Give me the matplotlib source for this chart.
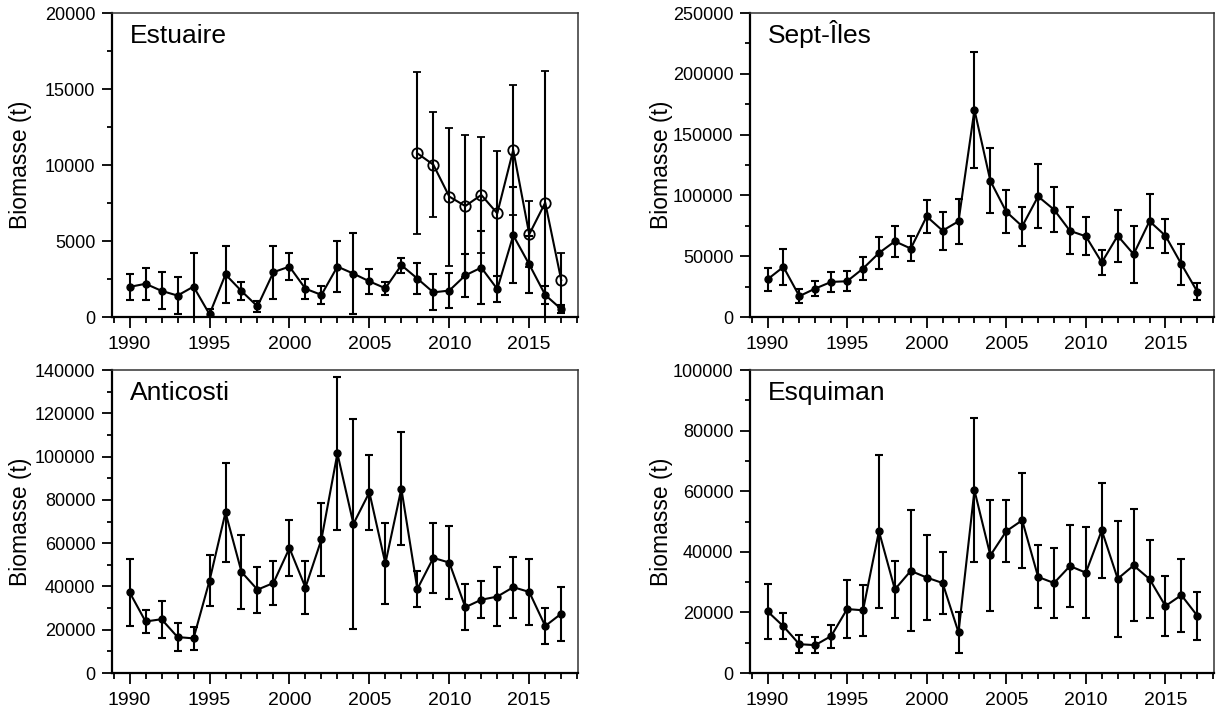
import matplotlib.pyplot as plt
from matplotlib.ticker import MultipleLocator

plt.rcParams['font.family'] = ['Liberation Sans', 'DejaVu Sans']

years = list(range(1990, 2018))

# Estuaire: main survey series plus the second series starting in 2008
estuaire = [1980, 2185, 1720, 1410, 2000, 180, 2800, 1705, 700, 2950,
            3315, 1860, 1455, 3315, 2855, 2345, 1890, 3410, 2530, 1620,
            1740, 2740, 3250, 1840, 5370, 3460, 1450, 520]
estuaire_err = [880, 1035, 1210, 1190, 2200, 320, 1850, 600, 370, 1740,
                900, 650, 575, 1700, 2675, 845, 440, 495, 1025, 1190,
                1150, 1430, 2400, 850, 3150, 1860, 590, 250]
estuaire2_years = list(range(2008, 2018))
estuaire2 = [10770, 10020, 7920, 7300, 8030, 6820, 10990, 5440, 7520, 2430]
estuaire2_err = [5340, 3450, 4540, 4650, 3830, 4120, 4270, 2170, 8660, 1760]

sept_iles = [30950, 41200, 17150, 23400, 28850, 29400, 39850, 52600, 62250, 56300,
             82700, 71000, 78700, 170350, 111950, 86550, 74600, 99150, 88300, 70850,
             66350, 44900, 66800, 51600, 78800, 66800, 43500, 20850]
sept_iles_err = [9750, 15100, 5650, 6200, 8250, 8200, 9650, 12800, 12750, 10450,
                 13500, 15500, 18300, 47550, 26750, 17850, 16100, 26350, 18800, 19250,
                 15550, 10000, 21600, 23350, 22400, 13900, 16900, 7150]

anticosti = [37300, 23800, 24850, 16600, 16000, 42650, 74200, 46700, 38500, 41600,
             57700, 39500, 61700, 101450, 68900, 83450, 50600, 85200, 38800, 53200,
             51000, 30400, 33850, 35300, 39650, 37450, 21700, 27400]
anticosti_err = [15500, 5500, 8450, 6600, 5300, 11650, 22800, 16900, 10650, 10250,
                 12900, 12250, 17050, 35450, 48650, 17450, 18800, 26100, 8300, 16200,
                 16900, 10600, 8650, 13700, 14050, 15350, 8500, 12500]

esquiman = [20350, 15400, 9500, 9200, 12200, 21100, 20700, 46800, 27600, 33700,
            31500, 29700, 13400, 60300, 38800, 46800, 50400, 31700, 29700, 35300,
            33100, 47100, 31100, 35500, 31000, 22100, 25700, 18900]
esquiman_err = [9150, 4300, 3000, 2550, 3800, 9700, 8400, 25200, 9450, 20000,
                13900, 10250, 6700, 23750, 18200, 10250, 15600, 10400, 11450, 13500,
                14950, 15600, 19150, 18500, 12850, 9900, 12050, 7950]

W, H = 1216, 721
fig = plt.figure(figsize=(W / 100, H / 100), dpi=100)


def make_axes(left, top, right, bottom):
    # pixel box -> figure fraction
    return fig.add_axes([left / W, 1 - bottom / H, (right - left) / W, (bottom - top) / H])


def series(ax, x, y, err, open_marker=False):
    if open_marker:
        style = dict(marker='o', markersize=7.5, markerfacecolor='none',
                     markeredgecolor='black', markeredgewidth=1.3)
    else:
        style = dict(marker='o', markersize=5, markerfacecolor='black',
                     markeredgecolor='black')
    ax.errorbar(x, y, yerr=err, color='black', lw=1.5, elinewidth=1.5,
                capsize=3, capthick=1.5, **style)


def style_panel(ax, name, ymax, ymajor, label_x):
    ax.set_xlim(1988.9, 2018.05)
    ax.set_ylim(0, ymax)
    ax.xaxis.set_major_locator(MultipleLocator(5))
    ax.xaxis.set_minor_locator(MultipleLocator(1))
    ax.yaxis.set_major_locator(MultipleLocator(ymajor))
    ax.yaxis.set_minor_locator(MultipleLocator(ymajor / 2))
    ax.tick_params(axis='x', which='major', length=8, width=1.3, pad=6, labelsize=14)
    ax.tick_params(axis='x', which='minor', length=4, width=1.3)
    ax.tick_params(axis='y', which='major', length=7, width=1.3, pad=5, labelsize=13)
    ax.tick_params(axis='y', which='minor', length=3.5, width=1.3)
    for side in ('left', 'bottom'):
        ax.spines[side].set_linewidth(1.6)
    for side in ('top', 'right'):
        ax.spines[side].set_linewidth(1.1)
        ax.spines[side].set_color('#333333')
    ax.set_ylabel('Biomasse (t)', fontsize=16.5)
    ax.yaxis.set_label_coords(label_x, 0.5)
    ax.text(0.039, 0.90, name, transform=ax.transAxes, fontsize=19,
            ha='left', va='baseline')


ax1 = make_axes(112, 13, 578, 317)
series(ax1, estuaire2_years, estuaire2, estuaire2_err, open_marker=True)
series(ax1, years, estuaire, estuaire_err)
style_panel(ax1, 'Estuaire', 20000, 5000, -80 / 466)

ax2 = make_axes(750, 13, 1214, 317)
series(ax2, years, sept_iles, sept_iles_err)
style_panel(ax2, 'Sept-Îles', 250000, 50000, -77 / 464)

ax3 = make_axes(112, 370, 578, 673)
series(ax3, years, anticosti, anticosti_err)
style_panel(ax3, 'Anticosti', 140000, 20000, -80 / 466)

ax4 = make_axes(750, 370, 1214, 673)
series(ax4, years, esquiman, esquiman_err)
style_panel(ax4, 'Esquiman', 100000, 20000, -77 / 464)

fig.savefig('out.png', dpi=100)
